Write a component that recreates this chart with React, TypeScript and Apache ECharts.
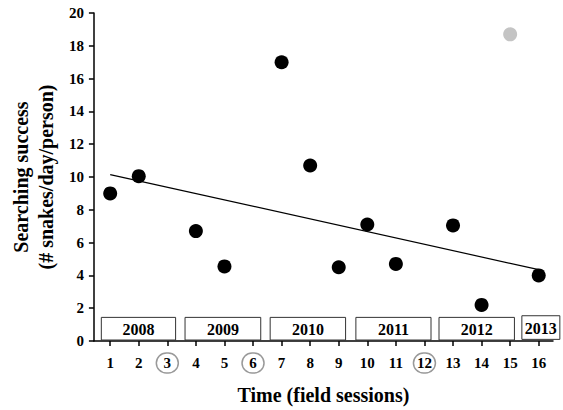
import React, { useEffect, useRef } from "react";
import * as echarts from "echarts";

const sessions = [1, 2, 4, 5, 7, 8, 9, 10, 11, 13, 14, 16];
const success = [9.0, 10.05, 6.7, 4.55, 17.0, 10.7, 4.5, 7.1, 4.7, 7.05, 2.2, 4.0];
const outlierSession = [15];
const outlierValue = [18.7];
const trendX = [1, 16];
const trendY = [10.15, 4.35];
const tickValues = [1, 2, 3, 4, 5, 6, 7, 8, 9, 10, 11, 12, 13, 14, 15, 16];
const circledSessions = [3, 6, 12];
const yearLabels = ["2008", "2009", "2010", "2011", "2012", "2013"];
const yearStart = [0.69, 3.62, 6.6, 9.6, 12.51, 15.41];
const yearEnd = [3.29, 6.27, 9.24, 12.23, 15.15, 16.74];
const yearLow = [0.06, 0.06, 0.06, 0.06, 0.06, 0.1];
const yearHigh = [1.44, 1.44, 1.44, 1.44, 1.44, 1.54];

const FONT = "'Liberation Serif', 'Times New Roman', serif";

export default function App() {
  const ref = useRef<HTMLDivElement>(null);
  useEffect(() => {
    if (!ref.current) return;
    const chart = echarts.init(ref.current, null, { renderer: "svg" });
    const boxData = yearLabels.map((_, i) => [yearStart[i], yearEnd[i], yearLow[i], yearHigh[i]]);
    chart.setOption({
      animation: false,
      backgroundColor: "#fff",
      textStyle: { fontFamily: FONT },
      grid: { left: 91, top: 13, right: 10, bottom: 68 },
      xAxis: {
        type: "value",
        min: 0.43,
        max: 16.5,
        name: "Time (field sessions)",
        nameLocation: "middle",
        nameGap: 44,
        nameTextStyle: { fontFamily: FONT, fontWeight: "bold", fontSize: 20, color: "#000" },
        axisLine: { show: true, lineStyle: { color: "#000", width: 1.5 } },
        axisTick: { show: true, length: 5, lineStyle: { color: "#000", width: 1.5 }, customValues: tickValues },
        axisLabel: {
          customValues: tickValues,
          margin: 12,
          formatter: (v: number) => (circledSessions.includes(v) ? `{c|${v}}` : `{n|${v}}`),
          rich: {
            n: { fontFamily: FONT, fontWeight: "bold", fontSize: 15, color: "#000", height: 20, lineHeight: 20 },
            c: {
              fontFamily: FONT,
              fontWeight: "bold",
              fontSize: 15,
              color: "#000",
              width: 22,
              height: 20,
              lineHeight: 20,
              align: "center",
              borderColor: "#999",
              borderWidth: 1.5,
              borderRadius: 11,
            },
          },
        },
        splitLine: { show: false },
      },
      yAxis: {
        type: "value",
        min: 0,
        max: 20,
        interval: 2,
        name: "Searching success\n(# snakes/day/person)",
        nameLocation: "middle",
        nameRotate: 90,
        nameGap: 32,
        nameTextStyle: { fontFamily: FONT, fontWeight: "bold", fontSize: 20, color: "#000", lineHeight: 25 },
        axisLine: { show: true, lineStyle: { color: "#000", width: 1.5 } },
        axisTick: { show: true, length: 5, lineStyle: { color: "#000", width: 1.5 } },
        axisLabel: { fontFamily: FONT, fontWeight: "bold", fontSize: 15, color: "#000", margin: 10 },
        splitLine: { show: false },
      },
      series: [
        {
          type: "custom",
          clip: false,
          z: 1,
          data: boxData,
          encode: { x: [0, 1], y: [2, 3] },
          renderItem: (params: any, api: any) => {
            const p0 = api.coord([api.value(0), api.value(3)]);
            const p1 = api.coord([api.value(1), api.value(2)]);
            const label = yearLabels[params.dataIndex];
            return {
              type: "group",
              children: [
                {
                  type: "rect",
                  shape: { x: p0[0], y: p0[1], width: p1[0] - p0[0], height: p1[1] - p0[1] },
                  style: { fill: "#fff", stroke: "#333", lineWidth: 1 },
                },
                {
                  type: "text",
                  style: {
                    text: label,
                    x: (p0[0] + p1[0]) / 2,
                    y: (p0[1] + p1[1]) / 2 + 1,
                    align: "center",
                    verticalAlign: "middle",
                    font: `bold 16px ${FONT}`,
                    fill: "#000",
                  },
                },
              ],
            };
          },
        },
        {
          type: "line",
          data: trendX.map((x, i) => [x, trendY[i]]),
          symbol: "none",
          lineStyle: { color: "#000", width: 1.2 },
          z: 2,
        },
        {
          type: "scatter",
          data: sessions.map((x, i) => [x, success[i]]),
          symbolSize: 14,
          itemStyle: { color: "#000", opacity: 1 },
          z: 3,
        },
        {
          type: "scatter",
          data: outlierSession.map((x, i) => [x, outlierValue[i]]),
          symbolSize: 14,
          itemStyle: { color: "#c4c4c4", opacity: 1 },
          z: 3,
        },
      ],
    });
    return () => chart.dispose();
  }, []);
  return <div ref={ref} style={{ position: "fixed", left: 0, top: 0, width: 563, height: 410 }} />;
}
